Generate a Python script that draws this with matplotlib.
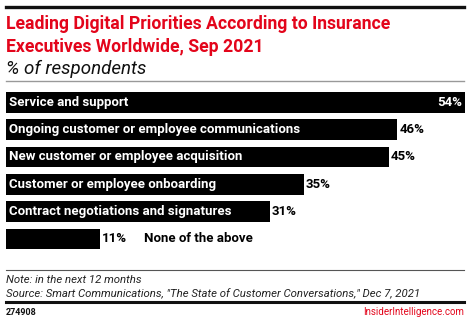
import matplotlib.pyplot as plt
from matplotlib.lines import Line2D

categories = [
    "Service and support",
    "Ongoing customer or employee communications",
    "New customer or employee acquisition",
    "Customer or employee onboarding",
    "Contract negotiations and signatures",
    "None of the above",
]
values = [54, 46, 45, 35, 31, 11]

W, H = 470, 321
RED = "#e3051b"
FONT = "Roboto"

fig = plt.figure(figsize=(W / 100, H / 100), dpi=100)


def px(x, y):
    return x / W, 1 - y / H


def hline(y, x0, x1, color, lw):
    fig.add_artist(Line2D([x0 / W, x1 / W], [1 - y / H, 1 - y / H],
                          color=color, lw=lw, transform=fig.transFigure))


# header
hline(7, 6, 464, "#111111", 2.4)
fig.text(*px(6, 29), "Leading Digital Priorities According to Insurance",
         color=RED, fontsize=12.7, fontweight="bold", family=FONT, va="baseline")
fig.text(*px(6, 52), "Executives Worldwide, Sep 2021",
         color=RED, fontsize=12.7, fontweight="bold", family=FONT, va="baseline")
fig.text(*px(6, 74), "% of respondents",
         color="#111111", fontsize=13.5, style="italic", family=FONT, va="baseline")
hline(80.5, 6, 464, "#999999", 1.0)

# bars
ax = fig.add_axes([6 / W, 1 - 256 / H, (465 - 6) / W, (256 - 92) / H])
y = list(range(len(values)))
ax.barh(y, values, height=0.75, color="black")
ax.set_xlim(0, 54)
ax.set_ylim(len(values) - 0.375, -0.375)
ax.axis("off")

LBL = dict(fontsize=9.5, fontweight="bold", family=FONT, va="center")
for i, (cat, v) in enumerate(zip(categories, values)):
    if i == 0:
        ax.text(0.35, i, cat, color="white", ha="left", **LBL)
        ax.text(v - 0.3, i, f"{v}%", color="white", ha="right", **LBL)
    elif cat == "None of the above":
        ax.text(v + 0.3, i, f"{v}%", color="black", ha="left", **LBL)
        ax.text(v + 5.2, i, cat, color="black", ha="left", **LBL)
    else:
        ax.text(0.35, i, cat, color="white", ha="left", **LBL)
        ax.text(v + 0.3, i, f"{v}%", color="black", ha="left", **LBL)

# footer
hline(269.5, 6, 464, "#555555", 0.8)
fig.text(*px(6, 283), "Note: in the next 12 months",
         color="#222222", fontsize=8.2, style="italic", family=FONT, va="baseline")
fig.text(*px(6, 297), 'Source: Smart Communications, "The State of Customer Conversations," Dec 7, 2021',
         color="#222222", fontsize=8.2, style="italic", family=FONT, va="baseline")
hline(302, 6, 464, "#111111", 2.2)
fig.text(*px(6, 315), "274908", color="#111111", fontsize=6.5, fontweight="bold",
         family=FONT, va="baseline")
fig.text(*px(464, 315), "InsiderIntelligence.com", color=RED, fontsize=7,
         family=FONT, va="baseline", ha="right")

fig.savefig("out.png", dpi=100)
